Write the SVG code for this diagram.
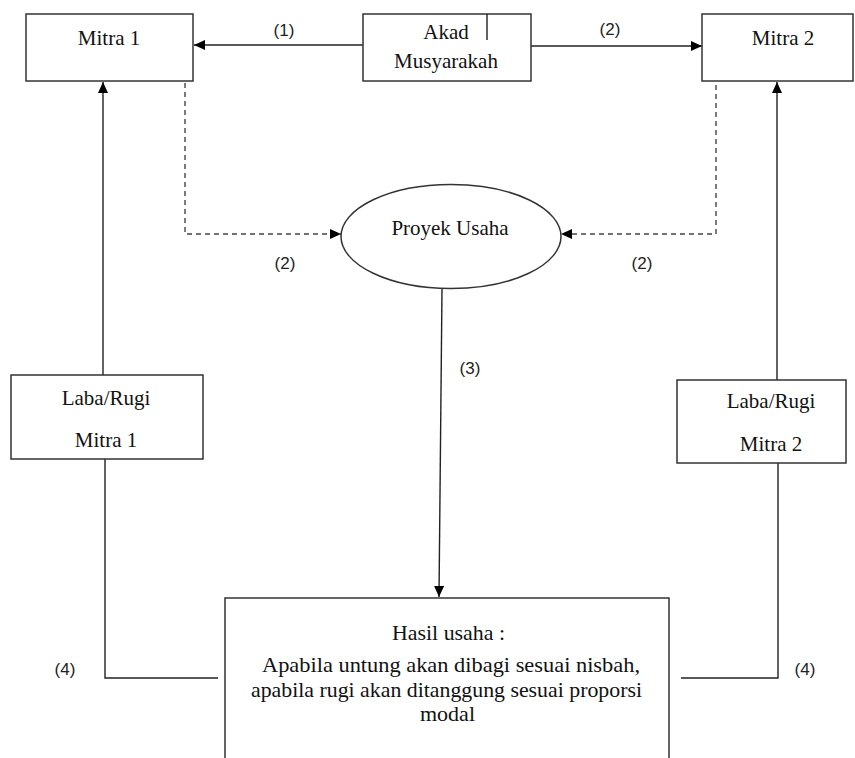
<svg xmlns="http://www.w3.org/2000/svg" width="855" height="758" viewBox="0 0 855 758">
<defs>
<marker id="arr" markerUnits="userSpaceOnUse" markerWidth="12" markerHeight="10" refX="11" refY="5" orient="auto">
<path d="M0,0 L11,5 L0,10 Z" fill="#000"/>
</marker>
<style>
.box{fill:#fff;stroke:#333;stroke-width:1.5}
.t{font-family:"Liberation Serif","Times New Roman",serif;font-size:21px;fill:#111;text-anchor:middle}
.h{font-family:"Liberation Serif","Times New Roman",serif;font-size:21px;fill:#111;text-anchor:middle}
.lbl{font-family:"Liberation Sans",Arial,sans-serif;font-size:17px;fill:#222;text-anchor:middle}
.c{fill:none;stroke:#222;stroke-width:1.4}
.d{fill:none;stroke:#444;stroke-width:1.4;stroke-dasharray:5,4}
</style>
</defs>
<rect width="855" height="758" fill="#fff"/>
<g id="connectors">
<line class="c" x1="363" y1="45" x2="194" y2="45" marker-end="url(#arr)"/>
<line class="c" x1="531" y1="46" x2="702" y2="46" marker-end="url(#arr)"/>
<polyline class="d" points="185,83 185,234 341,234" marker-end="url(#arr)"/>
<polyline class="d" points="716,85 716,234 561,234" marker-end="url(#arr)"/>
<line class="c" x1="442" y1="289" x2="439" y2="597" marker-end="url(#arr)"/>
<line class="c" x1="103" y1="375" x2="103" y2="82" marker-end="url(#arr)"/>
<line class="c" x1="777" y1="380" x2="777" y2="82" marker-end="url(#arr)"/>
<polyline class="c" points="105,459 105,678 218,678"/>
<polyline class="c" points="778,463 778,678 681,678"/>
<text class="lbl" x="284" y="36">(1)</text>
<text class="lbl" x="610" y="35">(2)</text>
<text class="lbl" x="285" y="269">(2)</text>
<text class="lbl" x="642" y="269">(2)</text>
<text class="lbl" x="470" y="374">(3)</text>
<text class="lbl" x="65" y="675">(4)</text>
<text class="lbl" x="805" y="675">(4)</text>
</g>
<g id="mitra1">
<rect class="box" x="26" y="14" width="167" height="67"/>
<text class="t" x="109" y="45">Mitra 1</text>
</g>
<g id="akad">
<rect class="box" x="363" y="14" width="168" height="67"/>
<line class="c" x1="487" y1="14" x2="487" y2="40"/>
<text class="t" x="446" y="39">Akad</text>
<text class="t" x="446" y="68">Musyarakah</text>
</g>
<g id="mitra2">
<rect class="box" x="702" y="14" width="151" height="67"/>
<text class="t" x="783" y="45">Mitra 2</text>
</g>
<g id="proyek">
<ellipse class="box" cx="451" cy="236.5" rx="110" ry="52"/>
<text class="t" x="450" y="235">Proyek Usaha</text>
</g>
<g id="laba1">
<rect class="box" x="11" y="375" width="192" height="84"/>
<text class="t" x="106" y="405">Laba/Rugi</text>
<text class="t" x="106" y="447">Mitra 1</text>
</g>
<g id="laba2">
<rect class="box" x="677" y="380" width="169" height="83"/>
<text class="t" x="771" y="408">Laba/Rugi</text>
<text class="t" x="771" y="451">Mitra 2</text>
</g>
<g id="hasil">
<rect class="box" x="225" y="598" width="444" height="180"/>
<text class="h" x="448.5" y="640" textLength="113" lengthAdjust="spacingAndGlyphs">Hasil usaha :</text>
<text class="h" x="451" y="672" textLength="378" lengthAdjust="spacingAndGlyphs">Apabila untung akan dibagi sesuai nisbah,</text>
<text class="h" x="446.5" y="696.5" textLength="391" lengthAdjust="spacingAndGlyphs">apabila rugi akan ditanggung sesuai proporsi</text>
<text class="h" x="447.5" y="721" textLength="55" lengthAdjust="spacingAndGlyphs">modal</text>
</g>
</svg>
